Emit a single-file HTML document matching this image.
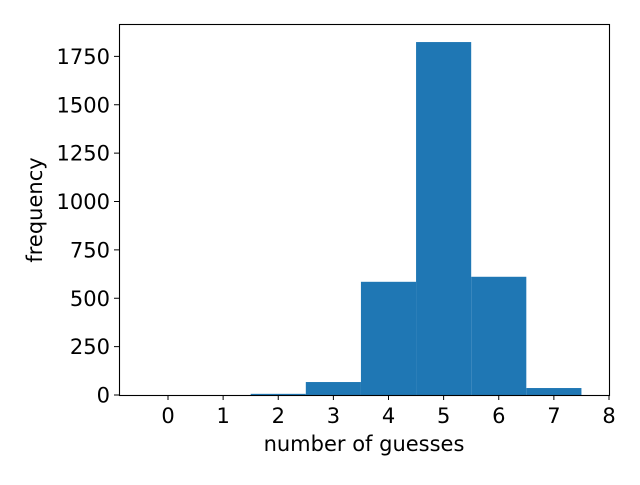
<!DOCTYPE html>
<html><head><meta charset="utf-8"><style>
body{margin:0;background:#fff;}
svg text{font-family:"DejaVu Sans","Liberation Sans",sans-serif;font-size:21px;fill:#000;}
</style></head><body>
<svg id="chart" width="640" height="480">
<rect x="0" y="0" width="640" height="480" fill="#fff"/>
<g id="bars"></g>
<rect x="119.5" y="24.5" width="490" height="371" fill="none" stroke="#000" stroke-width="1.1"/>
<g id="xt"></g><g id="yt"></g>
<text x="364" y="451" text-anchor="middle">number of guesses</text>
<text transform="translate(42,210) rotate(-90)" text-anchor="middle">frequency</text>
</svg>
<script>
const categories=[2,3,4,5,6,7];
const counts=[6,67,585,1824,611,36];
const xTicks=[0,1,2,3,4,5,6,7,8];
const yTicks=[0,250,500,750,1000,1250,1500,1750];
const NS="http://www.w3.org/2000/svg";
const X0=168,XS=55.125,Y0=395,YS=0.1935;
const xs=v=>X0+v*XS, ys=v=>Y0-v*YS;
const bars=document.getElementById('bars'),xt=document.getElementById('xt'),yt=document.getElementById('yt');
function mk(t,a,p){const e=document.createElementNS(NS,t);for(const k in a)e.setAttribute(k,a[k]);p.appendChild(e);return e;}
categories.forEach((c,i)=>{
 const r=mk('rect',{x:xs(c-0.5),y:ys(counts[i]),width:XS,height:Y0-ys(counts[i]),fill:'#1f77b4'},bars);
 
 
});
xTicks.forEach(t=>{
 const x=xs(t);
 mk('line',{x1:x,x2:x,y1:395,y2:400,stroke:'#000','stroke-width':1},xt);
 const tx=mk('text',{x:x,y:423,'text-anchor':'middle'},xt);tx.textContent=t;
 
 
});
yTicks.forEach(t=>{
 const y=ys(t);
 mk('line',{x1:114,x2:119,y1:y,y2:y,stroke:'#000','stroke-width':1},yt);
 const tx=mk('text',{x:110,y:y+7.5,'text-anchor':'end'},yt);tx.textContent=t;
 
 
});
</script>
</body></html>
